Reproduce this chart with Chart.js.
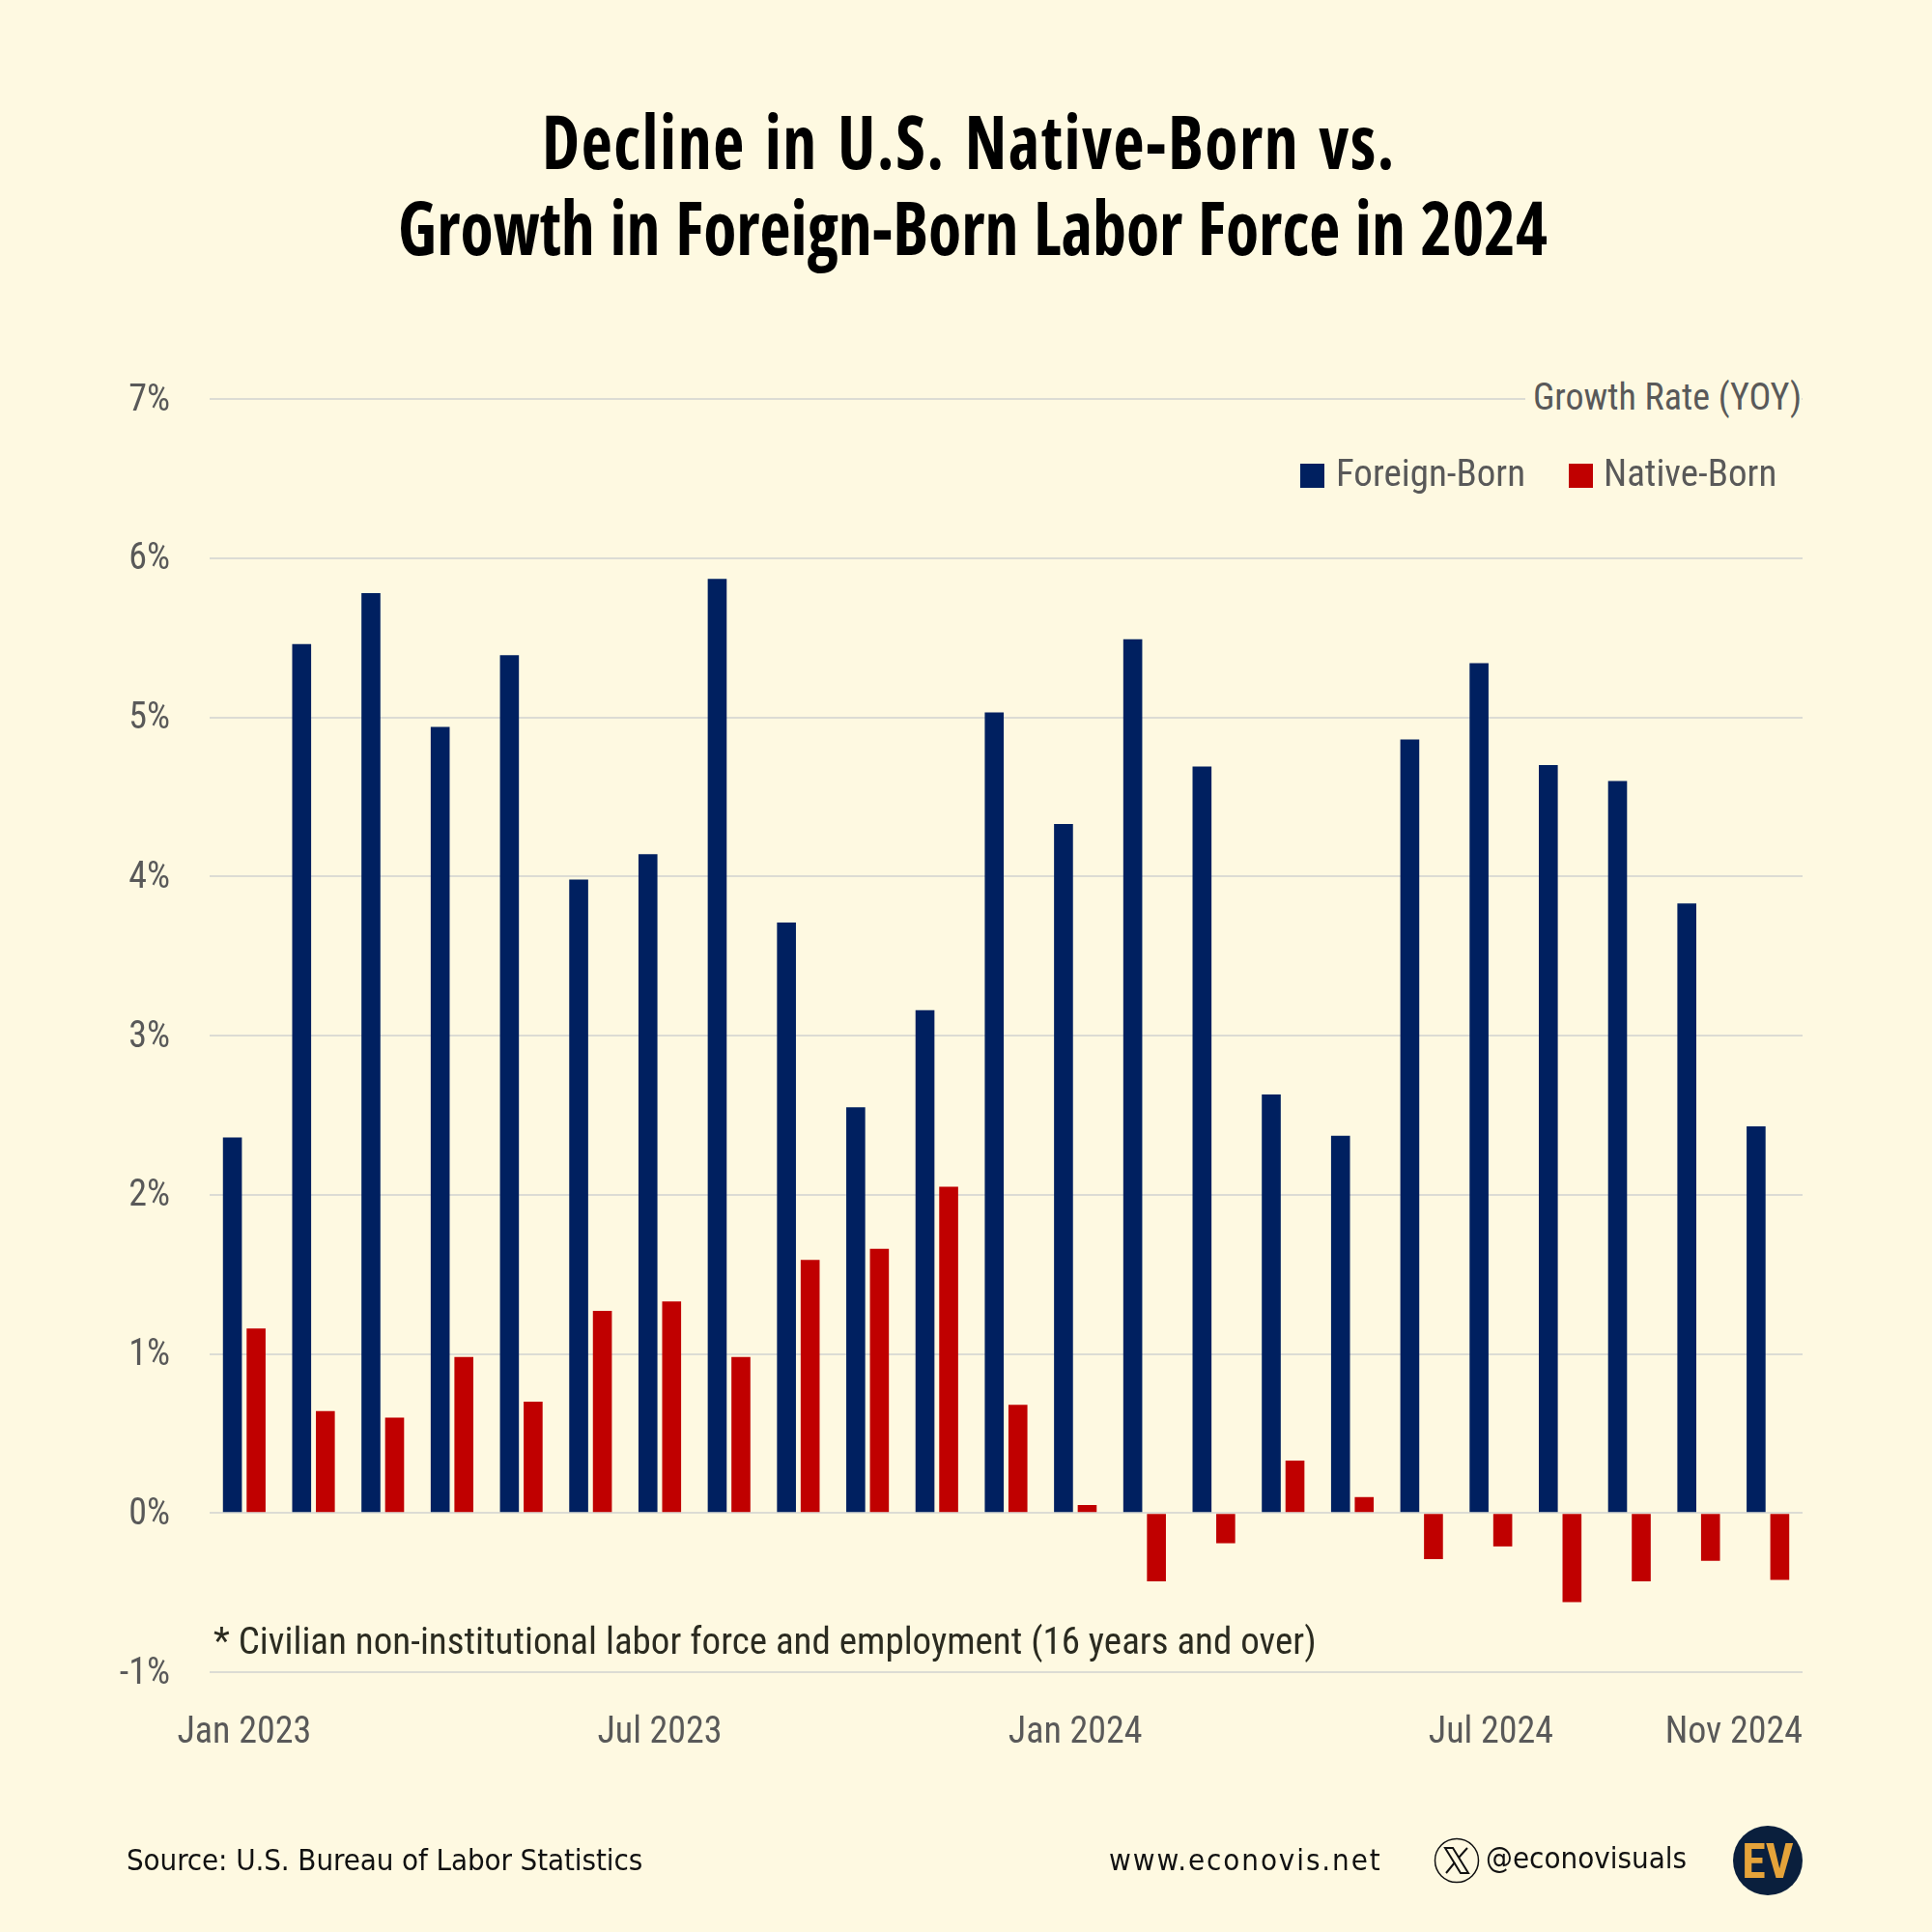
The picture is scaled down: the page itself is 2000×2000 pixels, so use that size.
<!DOCTYPE html>
<html>
<head>
<meta charset="utf-8">
<script src="https://cdn.jsdelivr.net/npm/chart.js@4"></script>
<style>
  html, body { margin: 0; padding: 0; background: #fef9e1; }
  #wrap { position: relative; width: 2000px; height: 2000px; overflow: hidden; background: #fef9e1; }
  canvas { position: absolute; left: 0; top: 0; }
  .t { position: absolute; white-space: nowrap; line-height: 1; font-family: Roboto, sans-serif; font-stretch: 75%; color: #595959; }
  .title { width: 2012px; text-align: center; font-family: "Open Sans", sans-serif; font-stretch: 75%; font-weight: 700; font-size: 70px; color: #000; transform: scaleY(1.1); }
  .sq { position: absolute; width: 25px; height: 25px; top: 480px; }
  .foot { font-family: "DejaVu Sans", sans-serif; color: #111; font-size: 31px; }
</style>
</head>
<body>
<div id="wrap">
  <canvas id="chart" width="2000" height="2000"></canvas>
  <div class="t title" style="left:-3px;top:110px;letter-spacing:1.5px;word-spacing:6px">Decline in U.S. Native-Born vs.</div>
  <div class="t title" style="left:1px;top:199px;word-spacing:3px">Growth in Foreign-Born Labor Force in 2024</div>

  <div class="t" style="left:1579px;width:286px;top:388px;height:46px;background:#fef9e1;text-align:right;font-size:38px;line-height:46px">Growth Rate (YOY)</div>
  <div class="sq" style="left:1346px;background:#002060"></div>
  <div class="t" style="left:1383px;top:471px;font-size:39px">Foreign-Born</div>
  <div class="sq" style="left:1624px;background:#c00000"></div>
  <div class="t" style="left:1660px;top:471px;font-size:39px">Native-Born</div>

  <div class="t" style="left:221px;top:1680px;font-size:39px;color:#2b2b20">* Civilian non-institutional labor force and employment (16 years and over)</div>

  <div class="t foot" style="left:131px;top:1910px;letter-spacing:-0.1px">Source: U.S. Bureau of Labor Statistics</div>
  <div class="t foot" style="left:1148px;top:1910px;letter-spacing:1.9px">www.econovis.net</div>
  <svg style="position:absolute;left:1484px;top:1902px" width="48" height="48" viewBox="0 0 48 48">
    <circle cx="24" cy="24" r="22.5" fill="none" stroke="#111" stroke-width="1.5"/>
    <path d="M12 11h8l16 26h-8z" fill="none" stroke="#111" stroke-width="2"/>
    <path d="M35 11L26 21M22 26L13 37" fill="none" stroke="#111" stroke-width="2"/>
  </svg>
  <div class="t foot" style="left:1538px;top:1908px">@econovisuals</div>
  <div style="position:absolute;left:1794px;top:1890px;width:72px;height:72px;border-radius:50%;background:#0a1f3d"></div>
  <div class="t" style="left:1794px;top:1902px;width:72px;text-align:center;font-size:50px;font-weight:700;color:#e5a33a">EV</div>
</div>
<script>
// Year over year growth
const months = ["Jan 2023","Feb 2023","Mar 2023","Apr 2023","May 2023","Jun 2023","Jul 2023","Aug 2023","Sep 2023","Oct 2023","Nov 2023","Dec 2023",
  "Jan 2024","Feb 2024","Mar 2024","Apr 2024","May 2024","Jun 2024","Jul 2024","Aug 2024","Sep 2024","Oct 2024","Nov 2024"];
const foreignBorn = [2.36,5.46,5.78,4.94,5.39,3.98,4.14,5.87,3.71,2.55,3.16,5.03,4.33,5.49,4.69,2.63,2.37,4.86,5.34,4.70,4.60,3.83,2.43];
const nativeBorn = [1.16,0.64,0.60,0.98,0.70,1.27,1.33,0.98,1.59,1.66,2.05,0.68,0.05,-0.43,-0.19,0.33,0.10,-0.29,-0.21,-0.56,-0.43,-0.30,-0.42];
const shownMonths = ["Jan 2023","Jul 2023","Jan 2024","Jul 2024","Nov 2024"];

const tickFont = { family: "Roboto, sans-serif", size: 38 };

// condensed tick text, and the last month label flush with the right end of the plot
const tickTweaks = {
  id: "tickTweaks",
  beforeDraw(chart) {
    chart.ctx.fontStretch = "condensed";
    chart.scales.x.getLabelItems(chart.chartArea).forEach(item => {
      if (item.label === "Nov 2024") {
        item.options.textAlign = "right";
        item.options.translation[0] = chart.chartArea.right;
      }
    });
  }
};

new Chart(document.getElementById("chart"), {
  type: "bar",
  data: {
    labels: months,
    datasets: [
      { label: "Foreign-Born", data: foreignBorn, backgroundColor: "#002060", categoryPercentage: 0.684, barPercentage: 0.8 },
      { label: "Native-Born", data: nativeBorn, backgroundColor: "#c00000", categoryPercentage: 0.684, barPercentage: 0.8 }
    ]
  },
  options: {
    responsive: false,
    animation: false,
    devicePixelRatio: 1,
    layout: { padding: { top: 413, right: 134, left: 0, bottom: 0 } },
    plugins: { legend: { display: false }, tooltip: { enabled: false } },
    scales: {
      x: {
        grid: { display: false },
        border: { display: false },
        afterFit(scale) { scale.height = 269; },
        ticks: {
          autoSkip: false,
          maxRotation: 0,
          padding: 33,
          color: "#595959",
          font: tickFont,
          callback(value) {
            const label = this.getLabelForValue(value);
            return shownMonths.includes(label) ? label : "";
          }
        }
      },
      y: {
        min: -1,
        max: 7,
        grid: { color: "#dcdcd4", lineWidth: 2, drawTicks: false },
        border: { display: false },
        afterFit(scale) { scale.width = 217; },
        ticks: {
          stepSize: 1,
          padding: 41,
          labelOffset: 2,
          color: "#595959",
          font: tickFont,
          callback(value) { return value + "%"; }
        }
      }
    }
  },
  plugins: [tickTweaks]
});
</script>
</body>
</html>
